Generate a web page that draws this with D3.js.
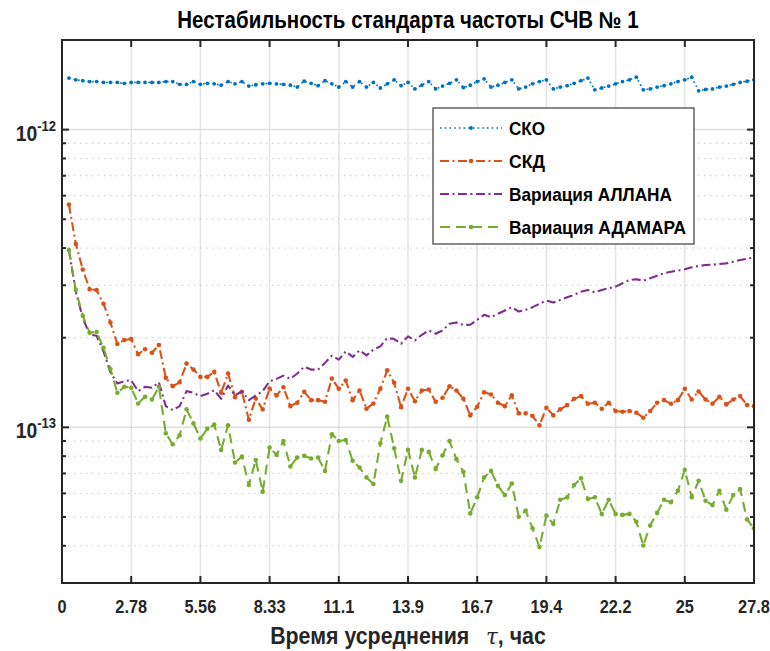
<!DOCTYPE html>
<html>
<head>
<meta charset="utf-8">
<script src="https://cdn.jsdelivr.net/npm/d3@7"></script>
<style>
  html, body { margin: 0; padding: 0; background: #ffffff; }
  svg { display: block; }
</style>
</head>
<body>
<svg id="chart" width="770" height="651"></svg>
<script>
// Averaging times, seconds
const tauSeconds = [
  1000, 2000, 3000, 4000, 5000, 6000, 7000, 8000, 9000, 10000,
  11000, 12000, 13000, 14000, 15000, 16000, 17000, 18000, 19000, 20000,
  21000, 22000, 23000, 24000, 25000, 26000, 27000, 28000, 29000, 30000,
  31000, 32000, 33000, 34000, 35000, 36000, 37000, 38000, 39000, 40000,
  41000, 42000, 43000, 44000, 45000, 46000, 47000, 48000, 49000, 50000,
  51000, 52000, 53000, 54000, 55000, 56000, 57000, 58000, 59000, 60000,
  61000, 62000, 63000, 64000, 65000, 66000, 67000, 68000, 69000, 70000,
  71000, 72000, 73000, 74000, 75000, 76000, 77000, 78000, 79000, 80000,
  81000, 82000, 83000, 84000, 85000, 86000, 87000, 88000, 89000, 90000,
  91000, 92000, 93000, 94000, 95000, 96000, 97000, 98000, 99000, 100000
];

// All estimates below are given in units of 1e-13
const UNIT = 1e-13;

const skoValues = [
  14.9, 14.7, 14.6, 14.5, 14.5, 14.4, 14.4, 14.4, 14.3, 14.4,
  14.4, 14.4, 14.4, 14.4, 14.5, 14.5, 14.2, 14.2, 14.5, 14.2,
  14.3, 14.25, 14.1, 14.5, 14.25, 14.5, 14.0, 14.15, 14.25, 14.3,
  14.25, 14.2, 14.1, 13.9, 14.55, 14.3, 14.05, 14.6, 14.25, 13.9,
  14.5, 13.9, 14.5, 13.9, 14.4, 13.8, 14.25, 14.7, 14.05, 14.4,
  13.7, 14.1, 14.5, 13.7, 14.0, 14.3, 14.7, 13.85, 14.1, 14.5,
  14.8, 13.9, 14.1, 14.4, 14.7, 13.7, 13.9, 14.25, 14.5, 14.7,
  13.7, 13.9, 14.05, 14.3, 14.6, 14.9, 13.6, 13.8, 14.0, 14.25,
  14.5, 14.7, 15.0, 13.6, 13.7, 13.9, 14.05, 14.25, 14.5, 14.7,
  15.0, 13.5, 13.65, 13.7, 13.9, 14.0, 14.2, 14.4, 14.55, 14.7
];

const skdValues = [
  5.60, 4.13, 3.39, 2.91, 2.89, 2.60, 2.25, 1.905, 1.965, 1.98,
  1.76, 1.83, 1.78, 1.89, 1.466, 1.374, 1.417, 1.637, 1.563, 1.477,
  1.477, 1.536, 1.306, 1.516, 1.263, 1.316, 1.061, 1.25, 1.149, 1.35,
  1.28, 1.364, 1.178, 1.21, 1.316, 1.234, 1.234, 1.219, 1.458, 1.347,
  1.436, 1.234, 1.33, 1.155, 1.203, 1.347, 1.554, 1.411, 1.169, 1.347,
  1.224, 1.33, 1.34, 1.219, 1.257, 1.374, 1.33, 1.247, 1.097, 1.173,
  1.312, 1.289, 1.21, 1.178, 1.282, 1.114, 1.114, 1.091, 1.016, 1.164,
  1.097, 1.149, 1.188, 1.247, 1.273, 1.2, 1.21, 1.155, 1.21, 1.134,
  1.128, 1.134, 1.12, 1.077, 1.134, 1.21, 1.234, 1.2, 1.234, 1.347,
  1.24, 1.32, 1.24, 1.2, 1.267, 1.194, 1.24, 1.273, 1.188, 1.178
];

const allanValues = [
  3.94, 2.85, 2.33, 2.05, 2.03, 1.80, 1.53, 1.404, 1.43, 1.439,
  1.323, 1.368, 1.358, 1.417, 1.178, 1.143, 1.178, 1.323, 1.306, 1.273,
  1.296, 1.332, 1.247, 1.382, 1.279, 1.323, 1.234, 1.279, 1.323, 1.428,
  1.455, 1.492, 1.455, 1.516, 1.596, 1.563, 1.563, 1.646, 1.741, 1.688,
  1.80, 1.724, 1.814, 1.745, 1.824, 1.87, 1.995, 1.98, 1.91, 2.02,
  1.959, 2.046, 2.116, 2.062, 2.116, 2.227, 2.25, 2.206, 2.211, 2.297,
  2.387, 2.345, 2.406, 2.468, 2.533, 2.449, 2.481, 2.533, 2.6, 2.666,
  2.625, 2.68, 2.736, 2.785, 2.856, 2.894, 2.843, 2.894, 2.933, 2.969,
  3.047, 3.126, 3.143, 3.109, 3.168, 3.232, 3.292, 3.333, 3.359, 3.395,
  3.447, 3.482, 3.509, 3.517, 3.536, 3.555, 3.599, 3.646, 3.683, 3.723
];

const hadamardValues = [
  3.94, 2.89, 2.37, 2.08, 2.09, 1.85, 1.57, 1.306, 1.368, 1.358,
  1.203, 1.267, 1.24, 1.368, 0.955, 0.877, 0.94, 1.149, 1.031, 0.917,
  0.99, 1.021, 0.84, 1.016, 0.762, 0.798, 0.64, 0.777, 0.608, 0.855,
  0.808, 0.9, 0.739, 0.792, 0.802, 0.786, 0.792, 0.714, 0.948, 0.9,
  0.907, 0.772, 0.733, 0.679, 0.645, 0.884, 1.086, 0.851, 0.661, 0.84,
  0.679, 0.84, 0.827, 0.724, 0.806, 0.9, 0.782, 0.709, 0.514, 0.582,
  0.679, 0.714, 0.636, 0.592, 0.648, 0.501, 0.525, 0.458, 0.396, 0.505,
  0.474, 0.571, 0.582, 0.64, 0.674, 0.574, 0.582, 0.512, 0.571, 0.512,
  0.508, 0.512, 0.482, 0.401, 0.468, 0.516, 0.571, 0.56, 0.612, 0.72,
  0.582, 0.661, 0.567, 0.548, 0.612, 0.529, 0.592, 0.62, 0.49, 0.458
];

const seriesNames = ["СКО", "СКД", "Вариация АЛЛАНА", "Вариация АДАМАРА"];

// X ticks in seconds and their printed labels (hours)
const xTickSeconds = [0, 10000, 20000, 30000, 40000, 50000, 60000, 70000, 80000, 90000, 100000];
const xTickLabels = ["0", "2.78", "5.56", "8.33", "11.1", "13.9", "16.7", "19.4", "22.2", "25", "27.8"];

// Y decades with labels, and minor ticks
const yMajorTicks = [1e-13, 1e-12];
const yMajorLabels = [["10", "-13"], ["10", "-12"]];
const yMinorTicks = [3e-14, 4e-14, 5e-14, 6e-14, 7e-14, 8e-14, 9e-14,
                     2e-13, 3e-13, 4e-13, 5e-13, 6e-13, 7e-13, 8e-13, 9e-13, 2e-12];

const titleText = "Нестабильность стандарта частоты СЧВ № 1";
const xLabelMain = "Время усреднения";
const xLabelSymbol = "τ";
const xLabelUnit = ", час";

// ---------- layout ----------
const FONT = "'Liberation Sans', Arial, Helvetica, sans-serif";
const AXIS_COLOR = "#262626";
const NARROW = 0.86;   // horizontal squeeze giving a narrow bold face
const box = { left: 62, right: 754, top: 40, bottom: 583 };

const svg = d3.select("#chart");

const x = d3.scaleLinear()
  .domain([0, 100000 / 3600])
  .range([box.left, box.right]);

const y = d3.scaleLog()
  .domain([3e-14, 2e-12])
  .range([box.bottom, box.top]);

const hours = s => s / 3600;

// squeeze a text group horizontally so it spans a given width
function fitWidth(g, cx, cy, width) {
  const w = g.node().getBBox().width;
  g.attr("transform", `translate(${cx},${cy}) scale(${width / w},1)`);
}

// clip for data
svg.append("defs").append("clipPath").attr("id", "plotClip")
  .append("rect")
  .attr("x", box.left).attr("y", box.top)
  .attr("width", box.right - box.left).attr("height", box.bottom - box.top);

// ---------- grid ----------
const grid = svg.append("g").attr("class", "grid");

grid.selectAll("line.vgrid")
  .data(xTickSeconds.slice(1, -1))
  .join("line")
  .attr("x1", d => x(hours(d))).attr("x2", d => x(hours(d)))
  .attr("y1", box.top).attr("y2", box.bottom)
  .attr("stroke", "#e3e3e3").attr("stroke-width", 1.5);

grid.selectAll("line.hminor")
  .data(yMinorTicks.filter(v => v > 3e-14 && v < 2e-12))
  .join("line")
  .attr("x1", box.left).attr("x2", box.right)
  .attr("y1", d => y(d)).attr("y2", d => y(d))
  .attr("stroke", "#c4c4c4").attr("stroke-width", 1)
  .attr("stroke-dasharray", "1.3,4.7");

grid.selectAll("line.hmajor")
  .data(yMajorTicks)
  .join("line")
  .attr("x1", box.left).attr("x2", box.right)
  .attr("y1", d => y(d)).attr("y2", d => y(d))
  .attr("stroke", "#dedede").attr("stroke-width", 1.5);

// ---------- series ----------
const series = [
  { name: seriesNames[0], values: skoValues, color: "#0072BD", width: 1.7, dash: "1.6,3.1", marker: 1.9 },
  { name: seriesNames[1], values: skdValues, color: "#D95319", width: 2.1, dash: "9,3.5,2,3.5", marker: 2.3 },
  { name: seriesNames[2], values: allanValues, color: "#7E2F8E", width: 2.1, dash: "9,3.5,2,3.5", marker: 0 },
  { name: seriesNames[3], values: hadamardValues, color: "#77AC30", width: 2.1, dash: "10,6", marker: 2.3 }
];

const line = d3.line()
  .x(d => x(d.t))
  .y(d => y(d.v));

const plotG = svg.append("g").attr("clip-path", "url(#plotClip)");

series.forEach(s => {
  const pts = tauSeconds.map((t, i) => ({ t: hours(t), v: s.values[i] * UNIT }));
  const g = plotG.append("g");
  g.append("path")
    .datum(pts)
    .attr("d", line)
    .attr("fill", "none")
    .attr("stroke", s.color)
    .attr("stroke-width", s.width)
    .attr("stroke-dasharray", s.dash)
    .attr("stroke-linejoin", "round");
  if (s.marker > 0) {
    g.selectAll("circle")
      .data(pts)
      .join("circle")
      .attr("cx", d => x(d.t))
      .attr("cy", d => y(d.v))
      .attr("r", s.marker)
      .attr("fill", s.color);
  }
});

// ---------- axes box and ticks ----------
const axes = svg.append("g").attr("class", "axes");

axes.append("rect")
  .attr("x", box.left).attr("y", box.top)
  .attr("width", box.right - box.left).attr("height", box.bottom - box.top)
  .attr("fill", "none").attr("stroke", AXIS_COLOR).attr("stroke-width", 2);

const MAJOR = 7, MINOR = 4;

// x ticks, bottom and top, pointing inward
xTickSeconds.forEach(s => {
  const px = x(hours(s));
  axes.append("line").attr("x1", px).attr("x2", px)
    .attr("y1", box.bottom).attr("y2", box.bottom - MAJOR)
    .attr("stroke", AXIS_COLOR).attr("stroke-width", 2);
  axes.append("line").attr("x1", px).attr("x2", px)
    .attr("y1", box.top).attr("y2", box.top + MAJOR)
    .attr("stroke", AXIS_COLOR).attr("stroke-width", 2);
});

// y ticks, left and right
[[yMajorTicks, MAJOR], [yMinorTicks, MINOR]].forEach(([vals, len]) => {
  vals.forEach(v => {
    const py = y(v);
    axes.append("line").attr("x1", box.left).attr("x2", box.left + len)
      .attr("y1", py).attr("y2", py)
      .attr("stroke", AXIS_COLOR).attr("stroke-width", 2);
    axes.append("line").attr("x1", box.right).attr("x2", box.right - len)
      .attr("y1", py).attr("y2", py)
      .attr("stroke", AXIS_COLOR).attr("stroke-width", 2);
  });
});

// x tick labels
xTickSeconds.forEach((d, i) => {
  axes.append("text")
    .attr("class", "xtick")
    .attr("transform", `translate(${x(hours(d))},613) scale(${NARROW},1)`)
    .attr("text-anchor", "middle")
    .attr("font-family", FONT)
    .attr("font-weight", "bold")
    .attr("font-size", 19)
    .attr("fill", AXIS_COLOR)
    .text(xTickLabels[i]);
});

// y tick labels: 10 with exponent
yMajorTicks.forEach((v, i) => {
  const py = y(v);
  const t = axes.append("text")
    .attr("transform", `translate(56,${py + 11}) scale(0.9,1)`)
    .attr("text-anchor", "end")
    .attr("font-family", FONT)
    .attr("font-weight", "bold")
    .attr("fill", AXIS_COLOR);
  t.append("tspan").attr("font-size", 21.5).text(yMajorLabels[i][0]);
  t.append("tspan").attr("font-size", 14.5).attr("dy", -10).text(yMajorLabels[i][1]);
});

// ---------- title and axis label ----------
const titleG = svg.append("g");
titleG.append("text")
  .attr("x", 0).attr("y", 0)
  .attr("text-anchor", "middle")
  .attr("font-family", FONT)
  .attr("font-weight", "bold")
  .attr("font-size", 23)
  .attr("fill", "#000")
  .text(titleText);
fitWidth(titleG, (box.left + box.right) / 2, 27.5, 462);

const xlG = svg.append("g");
const xl = xlG.append("text")
  .attr("x", 0).attr("y", 0)
  .attr("text-anchor", "middle")
  .attr("font-family", FONT)
  .attr("font-weight", "bold")
  .attr("font-size", 23)
  .attr("fill", AXIS_COLOR);
xl.append("tspan").text(xLabelMain);
xl.append("tspan").attr("dx", 18)
  .attr("font-family", "'DejaVu Serif', serif")
  .attr("font-style", "italic")
  .attr("font-weight", "normal")
  .text(xLabelSymbol);
xl.append("tspan").text(xLabelUnit);
fitWidth(xlG, 408, 644, 276);

// ---------- legend ----------
const legendWidths = [36, 36, 163, 177];
const legend = svg.append("g").attr("class", "legend");
legend.append("rect")
  .attr("x", 433).attr("y", 108)
  .attr("width", 261).attr("height", 136)
  .attr("fill", "#fff")
  .attr("stroke", "#4a4a4a").attr("stroke-width", 1.3);

series.forEach((s, i) => {
  const ly = 128 + i * 33;
  legend.append("line")
    .attr("x1", 440).attr("x2", 502)
    .attr("y1", ly).attr("y2", ly)
    .attr("stroke", s.color)
    .attr("stroke-width", s.width)
    .attr("stroke-dasharray", s.dash);
  if (s.marker > 0) {
    legend.append("circle")
      .attr("cx", 471).attr("cy", ly).attr("r", s.marker).attr("fill", s.color);
  }
  legend.append("text")
    .attr("x", 509).attr("y", ly)
    .attr("dy", "0.36em")
    .attr("font-family", FONT)
    .attr("font-weight", "bold")
    .attr("font-size", 18.5)
    .attr("textLength", legendWidths[i])
    .attr("lengthAdjust", "spacingAndGlyphs")
    .attr("fill", "#000")
    .text(s.name);
});
</script>
</body>
</html>
